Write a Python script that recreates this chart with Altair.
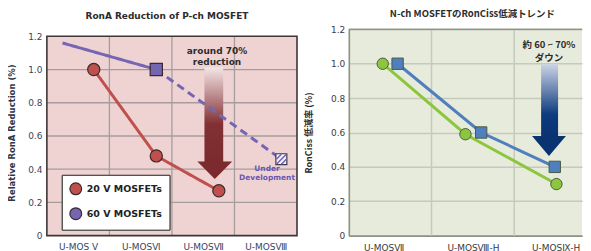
import altair as alt
import pandas as pd

# ---------------- data: left panel (P-ch) ----------------
left_cats = ["U-MOS V", "U-MOSⅥ", "U-MOSⅦ", "U-MOSⅧ"]
left_series = ["20 V MOSFETs", "60 V MOSFETs"]
red_idx = [0, 1, 2]
red_vals = [1.0, 0.48, 0.27]
purple_idx = [1, 3]
purple_vals = [1.0, 0.46]
purple_start_idx = 0
purple_start_val = 1.16
left_pt_off = 0.75
left_start_off = 0.25

# ---------------- data: right panel (N-ch) ----------------
right_cats = ["U-MOSⅦ", "U-MOSⅧ-H", "U-MOSⅨ-H"]
right_series = ["30 V耐圧品", "60 V耐圧品"]
green_vals = [1.0, 0.59, 0.30]
green_off = [0.41, 0.41, 0.51]
blue_vals = [1.0, 0.60, 0.40]
blue_off = [0.59, 0.60, 0.49]

y_ticks = [0, 0.2, 0.4, 0.6, 0.8, 1.0, 1.2]
y_inner = [0.2, 0.4, 0.6, 0.8, 1.0]

# ---------------- colours ----------------
RED, PURPLE = "#c0504d", "#7566b4"
GREEN, BLUE = "#8cc63e", "#4f7fbd"
L_BG, L_GRID, L_BORDER = "#efd3d3", "#a59d9d", "#3e3636"
R_BG, R_GRID, R_BORDER = "#e7ebdb", "#c6cabd", "#8c9384"

FONT = "DejaVu Sans"
JFONT = "Noto Sans CJK JP"

# ---------------- tables ----------------
left_pts = pd.DataFrame({
    "x": [i + left_pt_off for i in red_idx] + [purple_idx[0] + left_pt_off],
    "y": red_vals + [purple_vals[0]],
    "s": [left_series[0]] * 3 + [left_series[1]],
})
hatched = pd.DataFrame({"x": [purple_idx[1] + left_pt_off], "y": [purple_vals[1]]})
left_lines = pd.DataFrame({
    "x": [i + left_pt_off for i in red_idx]
         + [purple_start_idx + left_start_off, purple_idx[0] + left_pt_off]
         + [purple_idx[0] + left_pt_off, purple_idx[1] + left_pt_off],
    "y": red_vals + [purple_start_val, purple_vals[0]] + purple_vals,
    "s": [left_series[0]] * 3 + [left_series[1]] * 4,
    "seg": ["r"] * 3 + ["p1", "p1", "p2", "p2"],
    "dash": ["solid"] * 5 + ["dash", "dash"],
})
left_box = pd.DataFrame({"x": [0], "x2": [len(left_cats)], "y": [0], "y2": [y_ticks[-1]]})
left_vgrid = pd.DataFrame({"g": [1, 2, 3], "y": [0] * 3, "y2": [y_ticks[-1]] * 3})
left_hgrid = pd.DataFrame({"v": y_inner})
left_arrow_bar = pd.DataFrame({"x": [2.52], "x2": [2.82], "y": [1.014], "y2": [0.444]})
left_arrow_head = pd.DataFrame({"x": [2.685], "y": [0.394]})
left_notes = pd.DataFrame({
    "x": [2.72, 2.72], "y": [1.11, 1.044], "t": ["around 70%", "reduction"]})
left_dev = pd.DataFrame({
    "x": [3.52, 3.52], "y": [0.40, 0.345], "t": ["Under", "Development"]})

right_pts = pd.DataFrame({
    "x": [i + o for i, o in enumerate(green_off)] + [i + o for i, o in enumerate(blue_off)],
    "y": green_vals + blue_vals,
    "s": [right_series[0]] * 3 + [right_series[1]] * 3,
})
right_vgrid = pd.DataFrame({"g": [1, 2]})
right_arrow_bar = pd.DataFrame({"x": [2.325], "x2": [2.53], "y": [0.997], "y2": [0.58]})
right_arrow_head = pd.DataFrame({"x": [2.42], "y": [0.522]})
right_notes = pd.DataFrame({
    "x": [2.42, 2.42], "y": [1.107, 1.032], "t": ["約 60 ~ 70%", "ダウン"]})

y_label_expr = "datum.value == 0 ? '0' : format(datum.value, '.1f')"

# ---------------- left panel ----------------
lx_scale = alt.Scale(domain=[0, 4], nice=False, zero=False)
lx_axis = alt.Axis(values=[0.5, 1.5, 2.5, 3.5], grid=False, ticks=False, domain=False,
                   labelExpr="%s[floor(datum.value)]" % str(left_cats),
                   labelFont=FONT, labelFontSize=9, labelColor="#3a4262",
                   labelPadding=7, title=None)
# plot is 207 px tall; 0..1.2 occupies the lower 200 px
ly_scale = alt.Scale(domain=[0, 1.2 * 207 / 200.0], nice=False)
ly_axis = alt.Axis(values=y_ticks, grid=False,
                   ticks=False, domain=False, labelExpr=y_label_expr,
                   labelFont=FONT, labelFontSize=9, labelColor="#3a4262", labelPadding=5,
                   minExtent=22, maxExtent=22, titlePadding=8,
                   title="Relative RonA Reduction (%)", titleFont=FONT, titleFontSize=8.5,
                   titleFontWeight="bold", titleColor="#2f3548")


def LX(f):
    return alt.X(f, type="quantitative", scale=lx_scale, axis=lx_axis)


def LY(f):
    return alt.Y(f, type="quantitative", scale=ly_scale, axis=ly_axis)


l_color = alt.Scale(domain=left_series, range=[RED, PURPLE])
l_shape = alt.Scale(domain=left_series, range=["circle", "square"])
l_legend = alt.Legend(
    orient="none", legendX=15, legendY=146, title=None, fillColor="white",
    strokeColor="#3a3a3a", padding=7, rowPadding=7, symbolSize=140,
    symbolStrokeColor="#3b2a2a", symbolStrokeWidth=1.2, symbolOpacity=1,
    labelFont=FONT, labelFontSize=9.5, labelFontWeight="bold", labelColor="#222")

l_bg = alt.Chart(left_box).mark_rect(fill=L_BG).encode(
    x=LX("x"), x2="x2", y=LY("y"), y2="y2")
l_hg = alt.Chart(left_hgrid).mark_rule(color=L_GRID, strokeWidth=1.3).encode(y=LY("v"))
l_vg = alt.Chart(left_vgrid).mark_rule(color=L_GRID, strokeWidth=1.3).encode(
    x=LX("g"), y=LY("y"), y2="y2")
l_border = alt.Chart(left_box).mark_rect(filled=False, stroke=L_BORDER, strokeWidth=1.6).encode(
    x=LX("x"), x2="x2", y=LY("y"), y2="y2")

l_bar = alt.Chart(left_arrow_bar).mark_rect(
    fill=alt.Gradient(gradient="linear", x1=0, x2=0, y1=0, y2=1,
                      stops=[alt.GradientStop(offset=0, color="#f4e6e6"),
                             alt.GradientStop(offset=0.6, color="#823034"),
                             alt.GradientStop(offset=1, color="#7b2a2d")])
).encode(x=LX("x"), x2="x2", y=LY("y"), y2="y2")
l_head = alt.Chart(left_arrow_head).mark_point(
    shape="M-1,-0.5L1,-0.5L0,0.5Z", filled=True, size=1225, color="#7b2a2d", opacity=1
).encode(x=LX("x"), y=LY("y"))

l_line = alt.Chart(left_lines).mark_line(strokeWidth=3).encode(
    x=LX("x"), y=LY("y"),
    color=alt.Color("s:N", scale=l_color, legend=None),
    strokeDash=alt.StrokeDash("dash:N", scale=alt.Scale(domain=["solid", "dash"],
                              range=[[1, 0], [8, 5]]), legend=None),
    detail="seg:N",
)
l_pts = alt.Chart(left_pts).mark_point(filled=True, size=150, opacity=1,
                                        stroke="#3b2a2a", strokeWidth=1.2).encode(
    x=LX("x"), y=LY("y"),
    color=alt.Color("s:N", scale=l_color, legend=l_legend),
    shape=alt.Shape("s:N", scale=l_shape, legend=l_legend),
)
l_hatch_box = alt.Chart(hatched).mark_point(shape="square", filled=True, size=121,
                                            fill="#f4f2fa", stroke="#3a3550",
                                            strokeWidth=1.2, opacity=1).encode(
    x=LX("x"), y=LY("y"))
l_hatch = alt.Chart(hatched).mark_point(shape="M-1,0L0,-1M-1,1L1,-1M0,1L1,0",
                                        size=100, stroke=PURPLE, strokeWidth=1.6,
                                        opacity=1).encode(x=LX("x"), y=LY("y"))
l_txt = alt.Chart(left_notes).mark_text(font=FONT, fontSize=9, fontWeight="bold",
                                        color="#2b2b2b").encode(
    x=LX("x"), y=LY("y"), text="t:N")
l_dev = alt.Chart(left_dev).mark_text(font=FONT, fontSize=7.5, fontWeight="bold",
                                      color="#6a58b0").encode(
    x=LX("x"), y=LY("y"), text="t:N")

left = alt.layer(l_bg, l_hg, l_vg, l_border, l_bar, l_head, l_line, l_pts,
                 l_hatch_box, l_hatch, l_txt, l_dev).properties(
    width=251, height=207,
    view=alt.ViewBackground(strokeWidth=0),
    title=alt.TitleParams("RonA Reduction of P-ch MOSFET", font=FONT, fontSize=9,
                          fontWeight="bold", color="#2b2b2b", offset=8, dx=-5),
).resolve_scale(color="independent", strokeDash="independent")

# ---------------- right panel ----------------
rx_scale = alt.Scale(domain=[0, 234 / 83.0], nice=False, zero=False)
rx_axis = alt.Axis(values=[0.42, 1.5, 2.5], grid=False, ticks=False, domain=True,
                   domainColor=R_BORDER, domainWidth=1.6,
                   labelExpr="%s[floor(datum.value)]" % str(right_cats),
                   labelFont=FONT, labelFontSize=9, labelColor="#3a3a3a",
                   labelPadding=8, title=None)
ry_scale = alt.Scale(domain=[0, 1.2], nice=False)
ry_axis = alt.Axis(values=y_ticks, grid=True, gridColor=R_GRID, gridWidth=1.5,
                   ticks=False, domain=True, domainColor=R_BORDER, domainWidth=1.6,
                   labelExpr=y_label_expr,
                   labelFont=FONT, labelFontSize=9, labelColor="#3a3a3a", labelPadding=4,
                   minExtent=18, maxExtent=18, titlePadding=17,
                   title="RonCiss 低減率 (%)", titleFont=JFONT, titleFontSize=9,
                   titleFontWeight="bold", titleColor="#2b2b2b")


def RX(f):
    return alt.X(f, type="quantitative", scale=rx_scale, axis=rx_axis)


def RY(f):
    return alt.Y(f, type="quantitative", scale=ry_scale, axis=ry_axis)


r_color = alt.Scale(domain=right_series, range=[GREEN, BLUE])
r_shape = alt.Scale(domain=right_series, range=["circle", "square"])
r_legend = alt.Legend(
    orient="none", legendX=10, legendY=145, title=None, fillColor="white",
    strokeColor="#8a8a8a", padding=8, rowPadding=8, symbolSize=130,
    symbolStrokeColor="#4a5a45", symbolStrokeWidth=1.0, symbolOpacity=1,
    labelFont=JFONT, labelFontSize=9.5, labelFontWeight="bold", labelColor="#222")

r_grid = alt.Chart(right_vgrid).mark_rule(color=R_GRID, strokeWidth=1.5).encode(x=RX("g"))
r_top = alt.Chart(right_vgrid).mark_rule(color=R_BORDER, strokeWidth=1.2).encode(
    y=alt.datum(1.2, scale=ry_scale, axis=ry_axis))
r_bar = alt.Chart(right_arrow_bar).mark_rect(
    fill=alt.Gradient(gradient="linear", x1=0, x2=0, y1=0, y2=1,
                      stops=[alt.GradientStop(offset=0, color="#cbd3e6"),
                             alt.GradientStop(offset=0.7, color="#0d3b7d"),
                             alt.GradientStop(offset=1, color="#0a3372")])
).encode(x=RX("x"), x2="x2", y=RY("y"), y2="y2")
r_head = alt.Chart(right_arrow_head).mark_point(
    shape="M-1,-0.59L1,-0.59L0,0.59Z", filled=True, size=1156, color="#0a3372", opacity=1
).encode(x=RX("x"), y=RY("y"))
r_line = alt.Chart(right_pts).mark_line(strokeWidth=3).encode(
    x=RX("x"), y=RY("y"), color=alt.Color("s:N", scale=r_color, legend=None))
r_pts = alt.Chart(right_pts).mark_point(filled=True, size=130, opacity=1,
                                        stroke="#4a5a45", strokeWidth=1.0).encode(
    x=RX("x"), y=RY("y"),
    color=alt.Color("s:N", scale=r_color, legend=r_legend),
    shape=alt.Shape("s:N", scale=r_shape, legend=r_legend),
)
r_txt = alt.Chart(right_notes).mark_text(font=JFONT, fontSize=9.5, fontWeight="bold",
                                         color="#2b2b2b").encode(
    x=RX("x"), y=RY("y"), text="t:N")

right = alt.layer(r_grid, r_top, r_bar, r_head, r_line, r_pts, r_txt).properties(
    width=234, height=207,
    view=alt.ViewBackground(fill=R_BG, strokeWidth=0),
    title=alt.TitleParams("N-ch MOSFETのRonCiss低減トレンド", font=JFONT, fontSize=9.5,
                          fontWeight="bold", color="#2b2b2b", offset=7, dx=7),
)

chart = alt.hconcat(left, right, spacing=7).resolve_scale(
    color="independent", shape="independent", x="independent", y="independent"
).resolve_legend(color="independent", shape="independent").properties(
    padding=0, background="white")

chart.save("out.html", embed_options={"renderer": "svg", "actions": False})
